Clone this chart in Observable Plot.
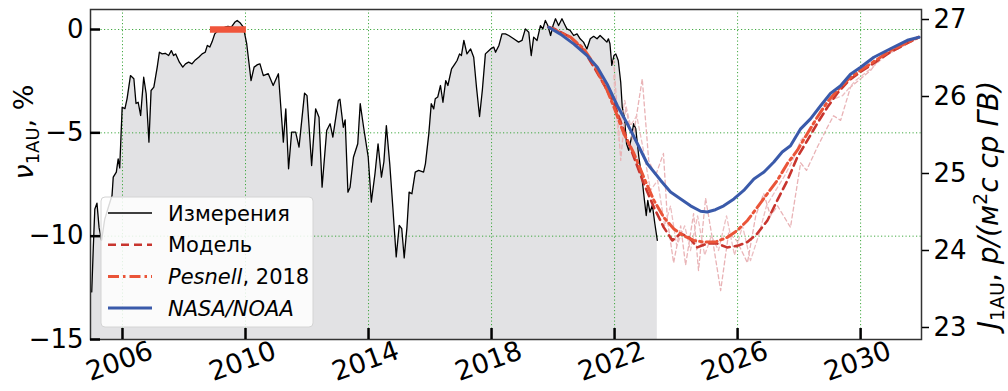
<!DOCTYPE html>
<html><head><meta charset="utf-8">
<script src="https://cdn.jsdelivr.net/npm/d3@7"></script>
<script src="https://cdn.jsdelivr.net/npm/@observablehq/plot@0.6"></script>
<style>body{margin:0;background:#fff;} #chart{width:1008px;height:391px;}</style>
</head><body><div id="chart"></div>
<script>
// ---- data ----
const measYears = [2005.00,2005.05,2005.10,2005.17,2005.24,2005.32,2005.42,2005.54,2005.66,2005.70,2005.80,2005.86,2005.91,2005.99,
2006.08,2006.15,2006.26,2006.37,2006.44,2006.51,2006.59,2006.69,2006.77,2006.86,2006.93,2007.02,2007.13,2007.20,2007.29,2007.39,
2007.50,2007.59,2007.66,2007.73,2007.85,2007.96,2008.05,2008.15,2008.26,2008.37,2008.48,2008.59,2008.69,2008.76,2008.84,2008.91,
2009.00,2009.11,2009.22,2009.33,2009.43,2009.54,2009.65,2009.73,2009.82,2009.93,2010.04,2010.18,2010.28,2010.39,2010.47,2010.58,
2010.74,2010.90,2011.07,2011.23,2011.31,2011.40,2011.50,2011.63,2011.74,2011.92,2012.00,2012.15,2012.28,2012.39,2012.49,2012.64,
2012.75,2012.84,2013.02,2013.07,2013.18,2013.24,2013.33,2013.40,2013.51,2013.65,2013.73,2013.84,2013.99,2014.09,2014.21,2014.31,
2014.42,2014.50,2014.58,2014.69,2014.79,2014.90,2015.00,2015.08,2015.16,2015.25,2015.32,2015.41,2015.52,2015.63,2015.79,2015.85,
2015.96,2016.04,2016.12,2016.17,2016.25,2016.34,2016.42,2016.51,2016.58,2016.70,2016.81,2016.88,2016.96,2017.02,2017.10,2017.20,
2017.32,2017.42,2017.51,2017.61,2017.70,2017.80,2017.97,2018.07,2018.13,2018.24,2018.34,2018.45,2018.56,2018.72,2018.88,2018.99,
2019.10,2019.21,2019.29,2019.37,2019.48,2019.59,2019.67,2019.75,2019.83,2019.92,2020.00,2020.08,2020.18,2020.29,2020.37,2020.45,
2020.56,2020.67,2020.78,2020.88,2020.99,2021.10,2021.21,2021.32,2021.43,2021.53,2021.64,2021.75,2021.80,2021.85,2021.91,2021.98,
2022.04,2022.12,2022.20,2022.25,2022.32,2022.39,2022.46,2022.53,2022.62,2022.69,2022.79,2022.90,2022.96,2023.03,2023.08,2023.15,
2023.23,2023.31,2023.39];
const measValues = [-12.7,-10.6,-8.7,-8.4,-9.6,-10.2,-9.2,-8.6,-8.03,-7.14,-6.9,-6.26,-6.7,-3.76,
-3.83,-3.34,-2.23,-2.38,-3.58,-3.52,-4.16,-2.31,-3.11,-5.45,-2.95,-2.79,-1.82,-1.10,-1.18,-1.15,
-1.26,-1.02,-1.26,-1.18,-1.58,-1.82,-1.66,-1.58,-1.66,-1.47,-1.34,-1.18,-1.10,-0.77,-0.85,-0.61,
-0.21,-0.05,0.03,0.11,0.15,0.11,0.35,0.44,0.33,0.11,-0.7,-2.47,-1.82,-1.7,-1.66,-2.23,
-2.14,-2.71,-2.14,-5.45,-3.84,-6.74,-4.97,-4.97,-5.69,-3.08,-3.2,-6.58,-3.84,-4.24,-7.63,-4.89,
-4.56,-5.21,-3.43,-3.37,-4.73,-4.37,-7.87,-7.63,-6.18,-5.53,-3.59,-4.73,-6.18,-8.35,-6.98,-5.53,
-7.14,-6.4,-4.65,-6.5,-8.6,-11.0,-9.48,-9.64,-11.05,-9.56,-7.87,-7.95,-6.9,-6.82,-6.9,-6.5,
-5.05,-3.59,-3.84,-3.35,-3.27,-2.71,-3.52,-2.47,-2.71,-1.9,-1.66,-1.5,-1.18,-1.26,-0.53,-1.18,
-0.94,-1.34,-2.79,-4.21,-2.95,-1.18,-0.94,-0.85,-1.10,-0.77,-0.21,-0.21,-0.29,-0.45,-0.61,-0.53,
0.03,-0.13,-1.26,-0.37,-0.53,0.19,0.03,0.44,0.19,-0.29,0.19,0.52,0.19,0.52,0.27,0.03,
-0.05,-0.29,-0.21,-0.45,-0.61,-0.94,-0.45,-0.33,-0.45,-0.29,-0.45,-0.61,-0.45,-0.69,-1.74,-1.26,
-1.18,-1.5,-2.55,-3.76,-4.24,-5.53,-5.85,-5.37,-4.56,-4.8,-6.18,-7.3,-8.11,-9.0,-8.27,-8.84,
-8.5,-9.4,-10.2];

// forecasts, flux J (right axis units)
const modelYears = [2019.86,2020.03,2020.57,2021.00,2021.33,2021.65,2021.98,2022.30,2022.63,2022.95,2023.28,2023.60,2023.88,2024.15,
2024.42,2024.69,2025.01,2025.34,2025.66,2025.99,2026.32,2026.64,2026.97,2027.29,2027.62,2027.94,2028.27,2028.59,2028.92,2029.24,
2029.62,2030.00,2030.98,2031.89];
const modelJ = [26.90,26.88,26.77,26.60,26.38,26.16,25.91,25.56,25.21,24.87,24.56,24.30,24.13,24.22,
24.17,24.04,24.09,24.09,24.04,24.06,24.11,24.22,24.39,24.65,24.91,25.21,25.43,25.65,25.86,26.04,
26.21,26.32,26.58,26.77];

const pesnellYears = [2019.86,2020.57,2021.00,2021.33,2021.54,2021.76,2021.98,2022.30,2022.63,2022.95,2023.28,2023.60,2023.93,2024.25,
2024.58,2024.90,2025.28,2025.66,2025.99,2026.32,2026.64,2026.97,2027.29,2027.62,2027.94,2028.27,2028.59,2028.92,2029.24,2029.62,
2030.00,2030.42,2030.98,2031.89];
const pesnellJ = [26.90,26.77,26.62,26.42,26.25,26.08,25.86,25.52,25.26,24.95,24.65,24.43,24.28,24.19,
24.13,24.11,24.11,24.17,24.26,24.39,24.56,24.74,24.91,25.13,25.30,25.52,25.73,25.93,26.08,26.23,
26.34,26.45,26.60,26.77];

const nasaYears = [2019.86,2020.24,2020.68,2021.11,2021.44,2021.76,2022.09,2022.41,2022.74,2023.06,2023.50,2023.82,2024.15,2024.47,
2024.80,2025.01,2025.28,2025.55,2025.88,2026.20,2026.53,2026.86,2027.18,2027.45,2027.72,2028.05,2028.37,2028.70,2029.02,2029.35,
2029.67,2030.00,2030.43,2030.97,2031.52,2031.90];
const nasaJ = [26.90,26.81,26.68,26.53,26.38,26.16,25.88,25.65,25.39,25.13,24.91,24.76,24.67,24.58,
24.51,24.50,24.53,24.58,24.67,24.78,24.93,25.02,25.15,25.28,25.36,25.58,25.71,25.88,26.04,26.14,
26.29,26.38,26.51,26.62,26.73,26.77];

const ensAYears = [2021.97,2022.20,2022.36,2022.59,2022.90,2023.11,2023.33,2023.59,2023.72,2023.92,2024.15,2024.31,2024.57,2024.73,
2024.96,2025.19,2025.45,2025.71,2025.97,2026.32,2026.59,2026.85,2027.07,2027.30,2027.72,2028.05,2028.24,2028.59,2028.92,2029.12,
2029.35,2029.67,2030.00,2030.33,2030.65,2031.14,2031.89];
const ensAJ = [26.47,25.17,25.86,25.43,26.23,25.17,24.97,25.26,24.39,23.84,24.32,23.81,24.48,23.74,
24.68,24.13,23.48,24.23,24.13,23.84,24.45,24.74,24.45,24.58,24.30,25.14,25.04,25.34,25.60,25.75,
25.69,26.12,26.23,26.34,26.51,26.60,26.77];
const ensBYears = [2021.97,2022.13,2022.33,2022.52,2022.72,2022.94,2023.17,2023.40,2023.63,2023.82,2024.02,2024.28,2024.47,2024.70,
2024.93,2025.15,2025.38,2025.64,2025.90,2026.16,2026.42,2026.68,2026.94,2027.24,2027.53,2027.79,2028.05,2028.37,2028.70,2029.02,
2029.41,2029.84,2030.33,2030.81,2031.89];
const ensBJ = [26.27,25.43,25.95,25.62,25.75,25.30,24.78,24.91,24.32,24.58,24.06,24.32,24.00,24.45,
23.94,24.19,24.00,24.45,23.94,24.32,23.87,24.19,24.58,24.78,24.97,25.17,25.43,25.56,25.82,25.95,
26.01,26.21,26.36,26.53,26.77];

const minBarStart = 2008.86, minBarEnd = 2010.03, minBarLevel = 0;

const xTicks = [2006, 2010, 2014, 2018, 2022, 2026, 2030];
const yTicks = [0, -5, -10, -15];
const yGrid = [0, -5, -10];
const jTicks = [23, 24, 25, 26, 27];

// ---- tables ----
const meas = measYears.map((t, i) => ({t, v: measValues[i]}));
const toTable = (ys, js) => ys.map((t, i) => ({t, j: js[i]}));
const model = toTable(modelYears, modelJ);
const pesnell = toTable(pesnellYears, pesnellJ);
const nasa = toTable(nasaYears, nasaJ);
const ensA = toTable(ensAYears, ensAJ);
const ensB = toTable(ensBYears, ensBJ);
const bar = [{x1: minBarStart, x2: minBarEnd, y: minBarLevel}];

const yDomain = [-15, 0.968];
const jDomain = [22.844, 27.130];
const toNu = d3.scaleLinear().domain(jDomain).range(yDomain);
const fmt = d => d < 0 ? "\u2212" + Math.abs(d) : String(d);
const FONT = "DejaVu Sans, sans-serif";

const svg = Plot.plot({
  width: 1008, height: 391,
  marginLeft: 90, marginRight: 87, marginTop: 9, marginBottom: 52,
  style: {fontFamily: FONT, fontSize: "26px", color: "#000", background: "#fff", overflow: "visible"},
  x: {domain: [2004.96, 2031.98]},
  y: {domain: yDomain},
  marks: [
    Plot.areaY(meas, {x: "t", y1: () => -15, y2: "v", fill: "#e2e2e4"}),
    Plot.gridX(xTicks, {stroke: "#2ca02c", strokeOpacity: 0.9, strokeWidth: 1, strokeDasharray: "1.2,2.3"}),
    Plot.gridY(yGrid, {stroke: "#2ca02c", strokeOpacity: 0.9, strokeWidth: 1, strokeDasharray: "1.2,2.3"}),
    Plot.line(meas, {x: "t", y: "v", stroke: "#000", strokeWidth: 1.3}),
    Plot.line(ensA, {x: "t", y: d => toNu(d.j), stroke: "#e9b3b6", strokeWidth: 1.3, strokeDasharray: "4,3"}),
    Plot.line(ensB, {x: "t", y: d => toNu(d.j), stroke: "#ecbfc2", strokeWidth: 1.3, strokeDasharray: "4,3"}),
    Plot.line(model, {x: "t", y: d => toNu(d.j), stroke: "#c8352e", strokeWidth: 2.6, strokeDasharray: "8,5"}),
    Plot.line(pesnell, {x: "t", y: d => toNu(d.j), stroke: "#ea5438", strokeWidth: 3, strokeDasharray: "11,4,2.5,4"}),
    Plot.line(nasa, {x: "t", y: d => toNu(d.j), stroke: "#3a5aaa", strokeWidth: 3}),
    Plot.ruleY(bar, {y: "y", x1: "x1", x2: "x2", stroke: "#f0553b", strokeWidth: 6.5}),
    Plot.frame({stroke: "#333", strokeWidth: 1.5}),
    Plot.axisY(yTicks, {anchor: "left", tickSize: -10, tickPadding: 17, strokeWidth: 2.5, tickFormat: fmt, label: null, fontSize: 26}),
    Plot.axisX(xTicks, {anchor: "bottom", tickSize: -11, tickPadding: 0, strokeWidth: 2.5, tickFormat: () => "", label: null}),
    Plot.text(xTicks, {x: d => d, frameAnchor: "bottom", dy: 30, rotate: -20, text: d => String(d), fontSize: 27, textAnchor: "middle"}),
    Plot.axisY(jTicks, {anchor: "right", y: d => toNu(d), tickSize: 7, tickPadding: 5, strokeWidth: 1.5, tickFormat: d => String(d), label: null, fontSize: 26})
  ]
});
document.getElementById("chart").appendChild(svg);

// ---- axis titles & legend ----
const s = d3.select(svg);
const lt = s.append("text").attr("transform", "translate(33,132) rotate(-90)")
  .attr("text-anchor", "middle").attr("font-family", FONT).attr("font-size", 27).attr("fill", "#000");
lt.append("tspan").attr("font-style", "italic").text("ν");
lt.append("tspan").attr("font-size", 18).attr("dy", 6).text("1AU");
lt.append("tspan").attr("dy", -6).text(", %");

const rt = s.append("text").attr("transform", "translate(998,205) rotate(-90)")
  .attr("text-anchor", "middle").attr("font-family", FONT).attr("font-size", 28).attr("fill", "#000");
rt.append("tspan").attr("font-style", "italic").text("J");
rt.append("tspan").attr("font-size", 19).attr("dy", 6).text("1AU");
rt.append("tspan").attr("dy", -6).text(", ");
rt.append("tspan").attr("font-style", "italic").text("p/(м");
rt.append("tspan").attr("font-size", 19).attr("dy", -11).text("2");
rt.append("tspan").attr("dy", 11).attr("font-style", "italic").text("c ср ГВ)");

const lg = s.append("g").attr("font-family", FONT).attr("font-size", 21).attr("text-anchor", "start");
lg.append("rect").attr("x", 101).attr("y", 197).attr("width", 212).attr("height", 130)
  .attr("rx", 4).attr("fill", "#fff").attr("fill-opacity", 0.85).attr("stroke", "#d4d4d4");
const items = [
  {label: [["Измерения", false]], stroke: "#000", w: 1.3, dash: null},
  {label: [["Модель", false]], stroke: "#c8352e", w: 2.6, dash: "8,5"},
  {label: [["Pesnell", true], [", 2018", false]], stroke: "#ea5438", w: 3, dash: "11,4,2.5,4"},
  {label: [["NASA/NOAA", true]], stroke: "#3a5aaa", w: 3, dash: null}
];
items.forEach((it, i) => {
  const y = 213 + i * 31.7;
  lg.append("line").attr("x1", 108).attr("x2", 152).attr("y1", y).attr("y2", y)
    .attr("stroke", it.stroke).attr("stroke-width", it.w).attr("stroke-dasharray", it.dash);
  const t = lg.append("text").attr("x", 168).attr("y", y).attr("dy", "0.36em").attr("fill", "#000").attr("text-anchor", "start");
  it.label.forEach(([txt, ital]) => t.append("tspan").attr("font-style", ital ? "italic" : null).text(txt));
});
</script>
</body></html>
